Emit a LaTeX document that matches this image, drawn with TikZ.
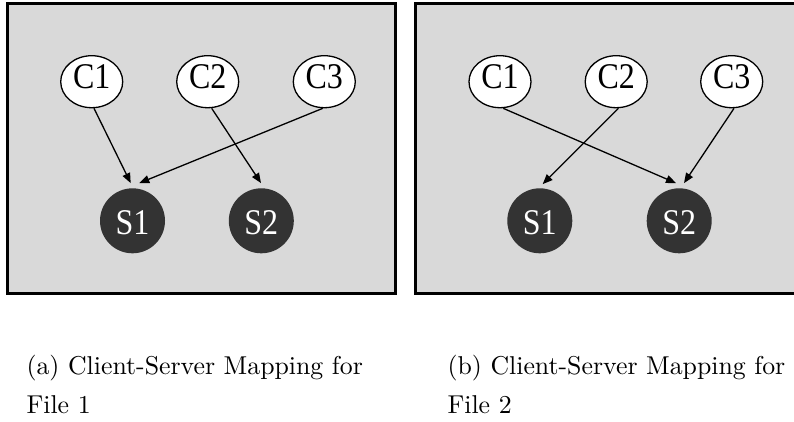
\documentclass[tikz,border=0pt]{standalone}
\usepackage{fontspec}
\newfontfamily\tnr{Liberation Serif}
\usetikzlibrary{arrows.meta,shapes.geometric}
\definecolor{panelbg}{RGB}{217,217,217}
\definecolor{srvfill}{RGB}{51,51,51}
\newcommand\vtxt[1]{\scalebox{1}[1.13]{#1}}
\begin{document}
\begin{tikzpicture}[x=1pt,y=-1pt,
  panel/.style={draw=black, line width=3pt, fill=panelbg},
  cnode/.style={ellipse, draw=black, line width=1.3pt, fill=white, minimum width=62pt, minimum height=52pt, inner sep=0pt},
  snode/.style={circle, fill=srvfill, minimum size=65pt, inner sep=0pt},
  clab/.style={font=\tnr\fontsize{32}{32}\selectfont, yshift=4.5pt, inner sep=0pt},
  slab/.style={font=\tnr\fontsize{32}{32}\selectfont, text=white, yshift=-2pt, inner sep=0pt},
  conn/.style={line width=1.3pt, -{Triangle[length=10pt,width=8pt]}},
  capnode/.style={scale=2.58, font=\fontsize{10}{14.85}\selectfont, align=left, anchor=base west, inner sep=0pt}]
\useasboundingbox (0,0) rectangle (794,421);
\clip (0,0) rectangle (794,421);
% panels
\draw[panel] (7.5,3.5) rectangle (395,293);
\draw[panel] (415.5,3.5) rectangle (797,293);
% left panel nodes
\node[cnode, label={[clab]center:\vtxt{C1}}] (a1) at (91.7,81.7) {};
\node[cnode, label={[clab]center:\vtxt{C2}}] (a2) at (207.7,81.7) {};
\node[cnode, label={[clab]center:\vtxt{C3}}] (a3) at (324.3,81.7) {};
\node[snode, label={[slab]center:\vtxt{S1}}] (as1) at (132.5,220.8) {};
\node[snode, label={[slab]center:\vtxt{S2}}] (as2) at (261.3,220.8) {};
% right panel nodes
\node[cnode, label={[clab]center:\vtxt{C1}}] (b1) at (500,81.7) {};
\node[cnode, label={[clab]center:\vtxt{C2}}] (b2) at (616.2,81.7) {};
\node[cnode, label={[clab]center:\vtxt{C3}}] (b3) at (731.7,81.7) {};
\node[snode, label={[slab]center:\vtxt{S1}}] (bs1) at (539.8,220.8) {};
\node[snode, label={[slab]center:\vtxt{S2}}] (bs2) at (679.2,220.8) {};
% left edges
\draw[conn] ([xshift=2.3pt]a1.south) -- ([xshift=-1.8pt,yshift=5pt]as1.north);
\draw[conn] ([xshift=4pt]a2.south) -- ([xshift=-0.3pt,yshift=5pt]as2.north);
\draw[conn] ([xshift=-1.6pt]a3.south) -- ([xshift=6.8pt,yshift=5pt]as1.north);
% right edges
\draw[conn] ([xshift=3.3pt]b1.south) -- ([xshift=-3.2pt,yshift=5pt]bs2.north);
\draw[conn] ([xshift=2.2pt]b2.south) -- ([xshift=2.9pt,yshift=4pt]bs1.north);
\draw[conn] ([xshift=2.3pt]b3.south) -- ([xshift=4.8pt,yshift=5pt]bs2.north);
% captions
\node[capnode] (capa) at (26,413.3) {(a) Client-Server Mapping for\\File 1};
\node[capnode] (capb) at (447,413.3) {(b) Client-Server Mapping for\\File 2};
\end{tikzpicture}
\end{document}
